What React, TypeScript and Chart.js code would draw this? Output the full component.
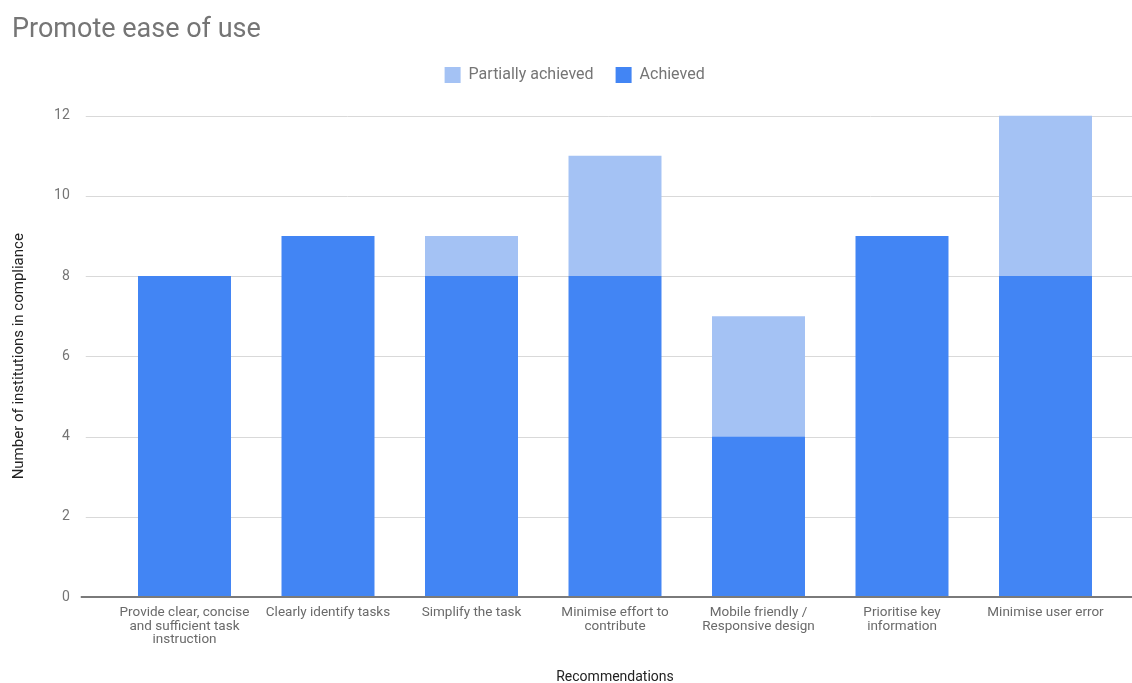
import React, { useEffect, useRef } from 'react';
import { Chart, registerables } from 'chart.js';

Chart.register(...registerables);

const chartTitle = 'Promote ease of use';
const categories: (string | string[])[] = [
  ['Provide clear, concise', 'and sufficient task', 'instruction'],
  'Clearly identify tasks',
  'Simplify the task',
  ['Minimise effort to', 'contribute'],
  ['Mobile friendly /', 'Responsive design'],
  ['Prioritise key', 'information'],
  'Minimise user error',
];
const achieved = [8, 9, 8, 8, 4, 9, 8];
const partiallyAchieved = [0, 0, 1, 3, 3, 0, 4];
const yTickValues = [0, 2, 4, 6, 8, 10, 12];
const xAxisTitle = 'Recommendations';
const yAxisTitle = 'Number of institutions in compliance';

const FONT = 'Roboto';

const extGrid = {
  id: 'extGrid',
  beforeInit(chart: any) {
    const origFit = chart.legend.fit;
    chart.legend.fit = function () {
      origFit.call(chart.legend);
      this.height += 22.5;
    };
  },
  afterLayout(chart: any) {
    chart.legend.left += 10;
    chart.legend.right += 10;
  },
  beforeDatasetsDraw(chart: any) {
    const y = chart.scales.y;
    const ctx = chart.ctx;
    const left = chart.chartArea.left - 27;
    ctx.save();
    ctx.strokeStyle = '#d9d9d9';
    ctx.lineWidth = 1;
    yTickValues.forEach((v) => {
      if (v === 0) return;
      const py = Math.round(y.getPixelForValue(v)) + 0.5;
      ctx.beginPath();
      ctx.moveTo(left, py);
      ctx.lineTo(chart.width, py);
      ctx.stroke();
    });
    ctx.restore();
  },
  afterDatasetsDraw(chart: any) {
    const y = chart.scales.y;
    const ctx = chart.ctx;
    const left = chart.chartArea.left - 32;
    const py = Math.round(y.getPixelForValue(0));
    ctx.save();
    ctx.strokeStyle = '#7a7a7a';
    ctx.lineWidth = 2;
    ctx.beginPath();
    ctx.moveTo(left, py);
    ctx.lineTo(chart.width, py);
    ctx.stroke();
    ctx.restore();
  },
};

export default function App() {
  const ref = useRef<HTMLCanvasElement | null>(null);

  useEffect(() => {
    if (!ref.current) return;
    const chart = new Chart(ref.current, {
      type: 'bar',
      data: {
        labels: categories,
        datasets: [
          {
            label: 'Achieved',
            data: achieved,
            backgroundColor: '#4285f4',
            borderWidth: 0,
            categoryPercentage: 1,
            barPercentage: 0.648,
          },
          {
            label: 'Partially achieved',
            data: partiallyAchieved,
            backgroundColor: '#a4c2f4',
            borderWidth: 0,
            categoryPercentage: 1,
            barPercentage: 0.648,
          },
        ],
      },
      options: {
        responsive: false,
        animation: false,
        layout: { padding: { left: 12, right: 14.75, top: 0, bottom: 0 } },
        plugins: {
          title: {
            display: true,
            text: chartTitle,
            align: 'start',
            color: '#757575',
            font: { family: FONT, size: 27, weight: 'normal' },
            padding: { top: 14, bottom: -1.4 },
          },
          legend: {
            display: true,
            position: 'top',
            reverse: true,
            labels: {
              boxWidth: 16,
              boxHeight: 16,
              color: '#757575',
              font: { family: FONT, size: 16 },
              padding: 22,
            },
          },
          tooltip: { enabled: false },
        },
        scales: {
          x: {
            stacked: true,
            offset: true,
            grid: { display: false, drawTicks: false },
            border: { display: false },
            ticks: {
              color: '#6a6a6a',
              font: { family: FONT, size: 13.5, lineHeight: 1 },
              padding: 9,
              maxRotation: 0,
              autoSkip: false,
            },
            title: {
              display: true,
              text: xAxisTitle,
              color: '#222222',
              font: { family: FONT, size: 14 },
              padding: { top: 0, bottom: 14.6 },
            },
            afterFit(s: any) {
              s.height = 103;
            },
          },
          y: {
            stacked: true,
            min: 0,
            max: 12,
            grid: { display: false, drawTicks: false },
            border: { display: false },
            ticks: {
              stepSize: 2,
              color: '#757575',
              font: { family: FONT, size: 14 },
              padding: 43,
            },
            title: {
              display: true,
              text: yAxisTitle,
              color: '#222222',
              font: { family: FONT, size: 15 },
              padding: { top: -2, bottom: 0 },
            },
            afterFit(s: any) {
              s.width = 100.75;
            },
          },
        },
      },
      plugins: [extGrid],
    } as any);
    return () => chart.destroy();
  }, []);

  return (
    <div style={{ position: 'fixed', left: 0, top: 0, width: 1132, height: 700, background: '#fff' }}>
      <canvas ref={ref} width={1132} height={700} style={{ width: 1132, height: 700, display: 'block' }} />
    </div>
  );
}
